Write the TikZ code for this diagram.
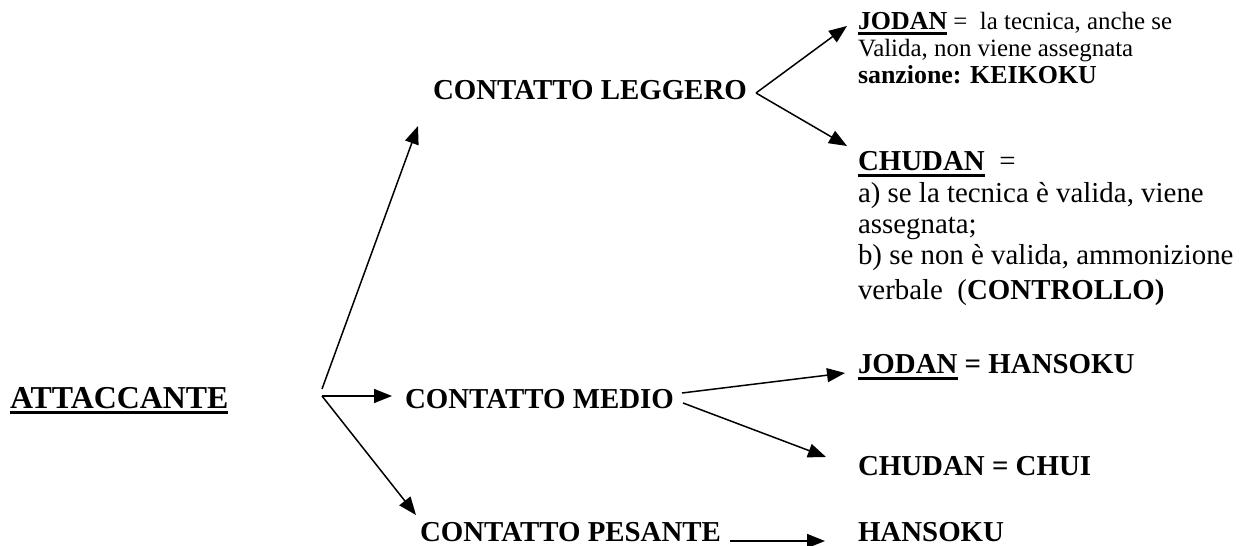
\documentclass[tikz,border=0pt]{standalone}
\usepackage{fontspec}
\setmainfont{LiberationSerif}[Extension=.ttf, UprightFont=*-Regular, BoldFont=*-Bold, ItalicFont=*-Italic, BoldItalicFont=*-BoldItalic]
\usetikzlibrary{arrows.meta}
\newcommand\myul[1]{\setbox0\hbox{#1}\rlap{\rule[-0.2em]{\wd0}{0.1em}}\box0\relax}
\begin{document}
\begin{tikzpicture}[x=1bp,y=-1bp,
  txt/.style={anchor=base west, inner sep=0pt, outer sep=0pt, font=\fontsize{29}{32}\selectfont},
  btxt/.style={txt, font=\fontsize{29}{32}\selectfont\bfseries},
  stxt/.style={txt, font=\fontsize{25}{28}\selectfont},
  sbtxt/.style={txt, font=\fontsize{26}{28}\selectfont\bfseries},
  big/.style={anchor=base west, inner sep=0pt, outer sep=0pt, font=\fontsize{32}{36}\selectfont\bfseries},
  conn/.style={line width=1.5bp},
  arr/.style={conn, -{Triangle[length=18bp,width=14bp]}}]
\useasboundingbox (0,0) rectangle (1246,546);

% left
\node[big] (att) at (10,408) {\myul{ATTACCANTE}};
\node[btxt] (leg) at (433,100) {CONTATTO LEGGERO};
\node[btxt] (med) at (405,408) {CONTATTO MEDIO};
\node[btxt] (pes) at (420,541) {CONTATTO PESANTE};

% right column
\node[stxt] (j1) at (858,30) {\myul{\fontsize{26}{28}\selectfont\textbf{JODAN}} =\ \ la tecnica, anche se};
\node[stxt] (j2) at (858,57) {Valida, non viene assegnata};
\node[sbtxt] (j3) at (858,84) {sanzione: KEIKOKU};
\node[txt] (c1) at (858,171) {\myul{\textbf{CHUDAN}}\ \ =};
\node[txt] (c2) at (858,203) {a) se la tecnica è valida, viene};
\node[txt] (c3) at (858,234) {assegnata;};
\node[txt] (c4) at (858,265) {b) se non è valida, ammonizione};
\node[txt] (c5) at (858,300) {verbale\ \ (\textbf{CONTROLLO)}};
\node[btxt] (mj) at (858,374) {\myul{JODAN} = HANSOKU};
\node[btxt] (mc) at (858,475) {CHUDAN = CHUI};
\node[btxt] (ph) at (858,541) {HANSOKU};

% connector points
\coordinate (o) at (322,396);
\coordinate (oUp) at (322,389);
\coordinate (tLeg) at (418,126);
\coordinate (tMed) at (392,396);
\coordinate (tPes) at (416,515);
\coordinate (jL) at (756,93);
\coordinate (tJ1) at (847,26);
\coordinate (tC1) at (847,146);
\coordinate (jMa) at (682,393);
\coordinate (jMb) at (683,403);
\coordinate (tMJ) at (845,373);
\coordinate (tMC) at (826,457);
\coordinate (sP) at (730,541);
\coordinate (tPH) at (825,541);

\draw[arr] (oUp) -- (tLeg);
\draw[arr] (o) -- (tMed);
\draw[arr] (o) -- (tPes);
\draw[arr] (jL) -- (tJ1);
\draw[arr] (jL) -- (tC1);
\draw[arr] (jMa) -- (tMJ);
\draw[arr] (jMb) -- (tMC);
\draw[arr] (sP) -- (tPH);
\end{tikzpicture}
\end{document}
